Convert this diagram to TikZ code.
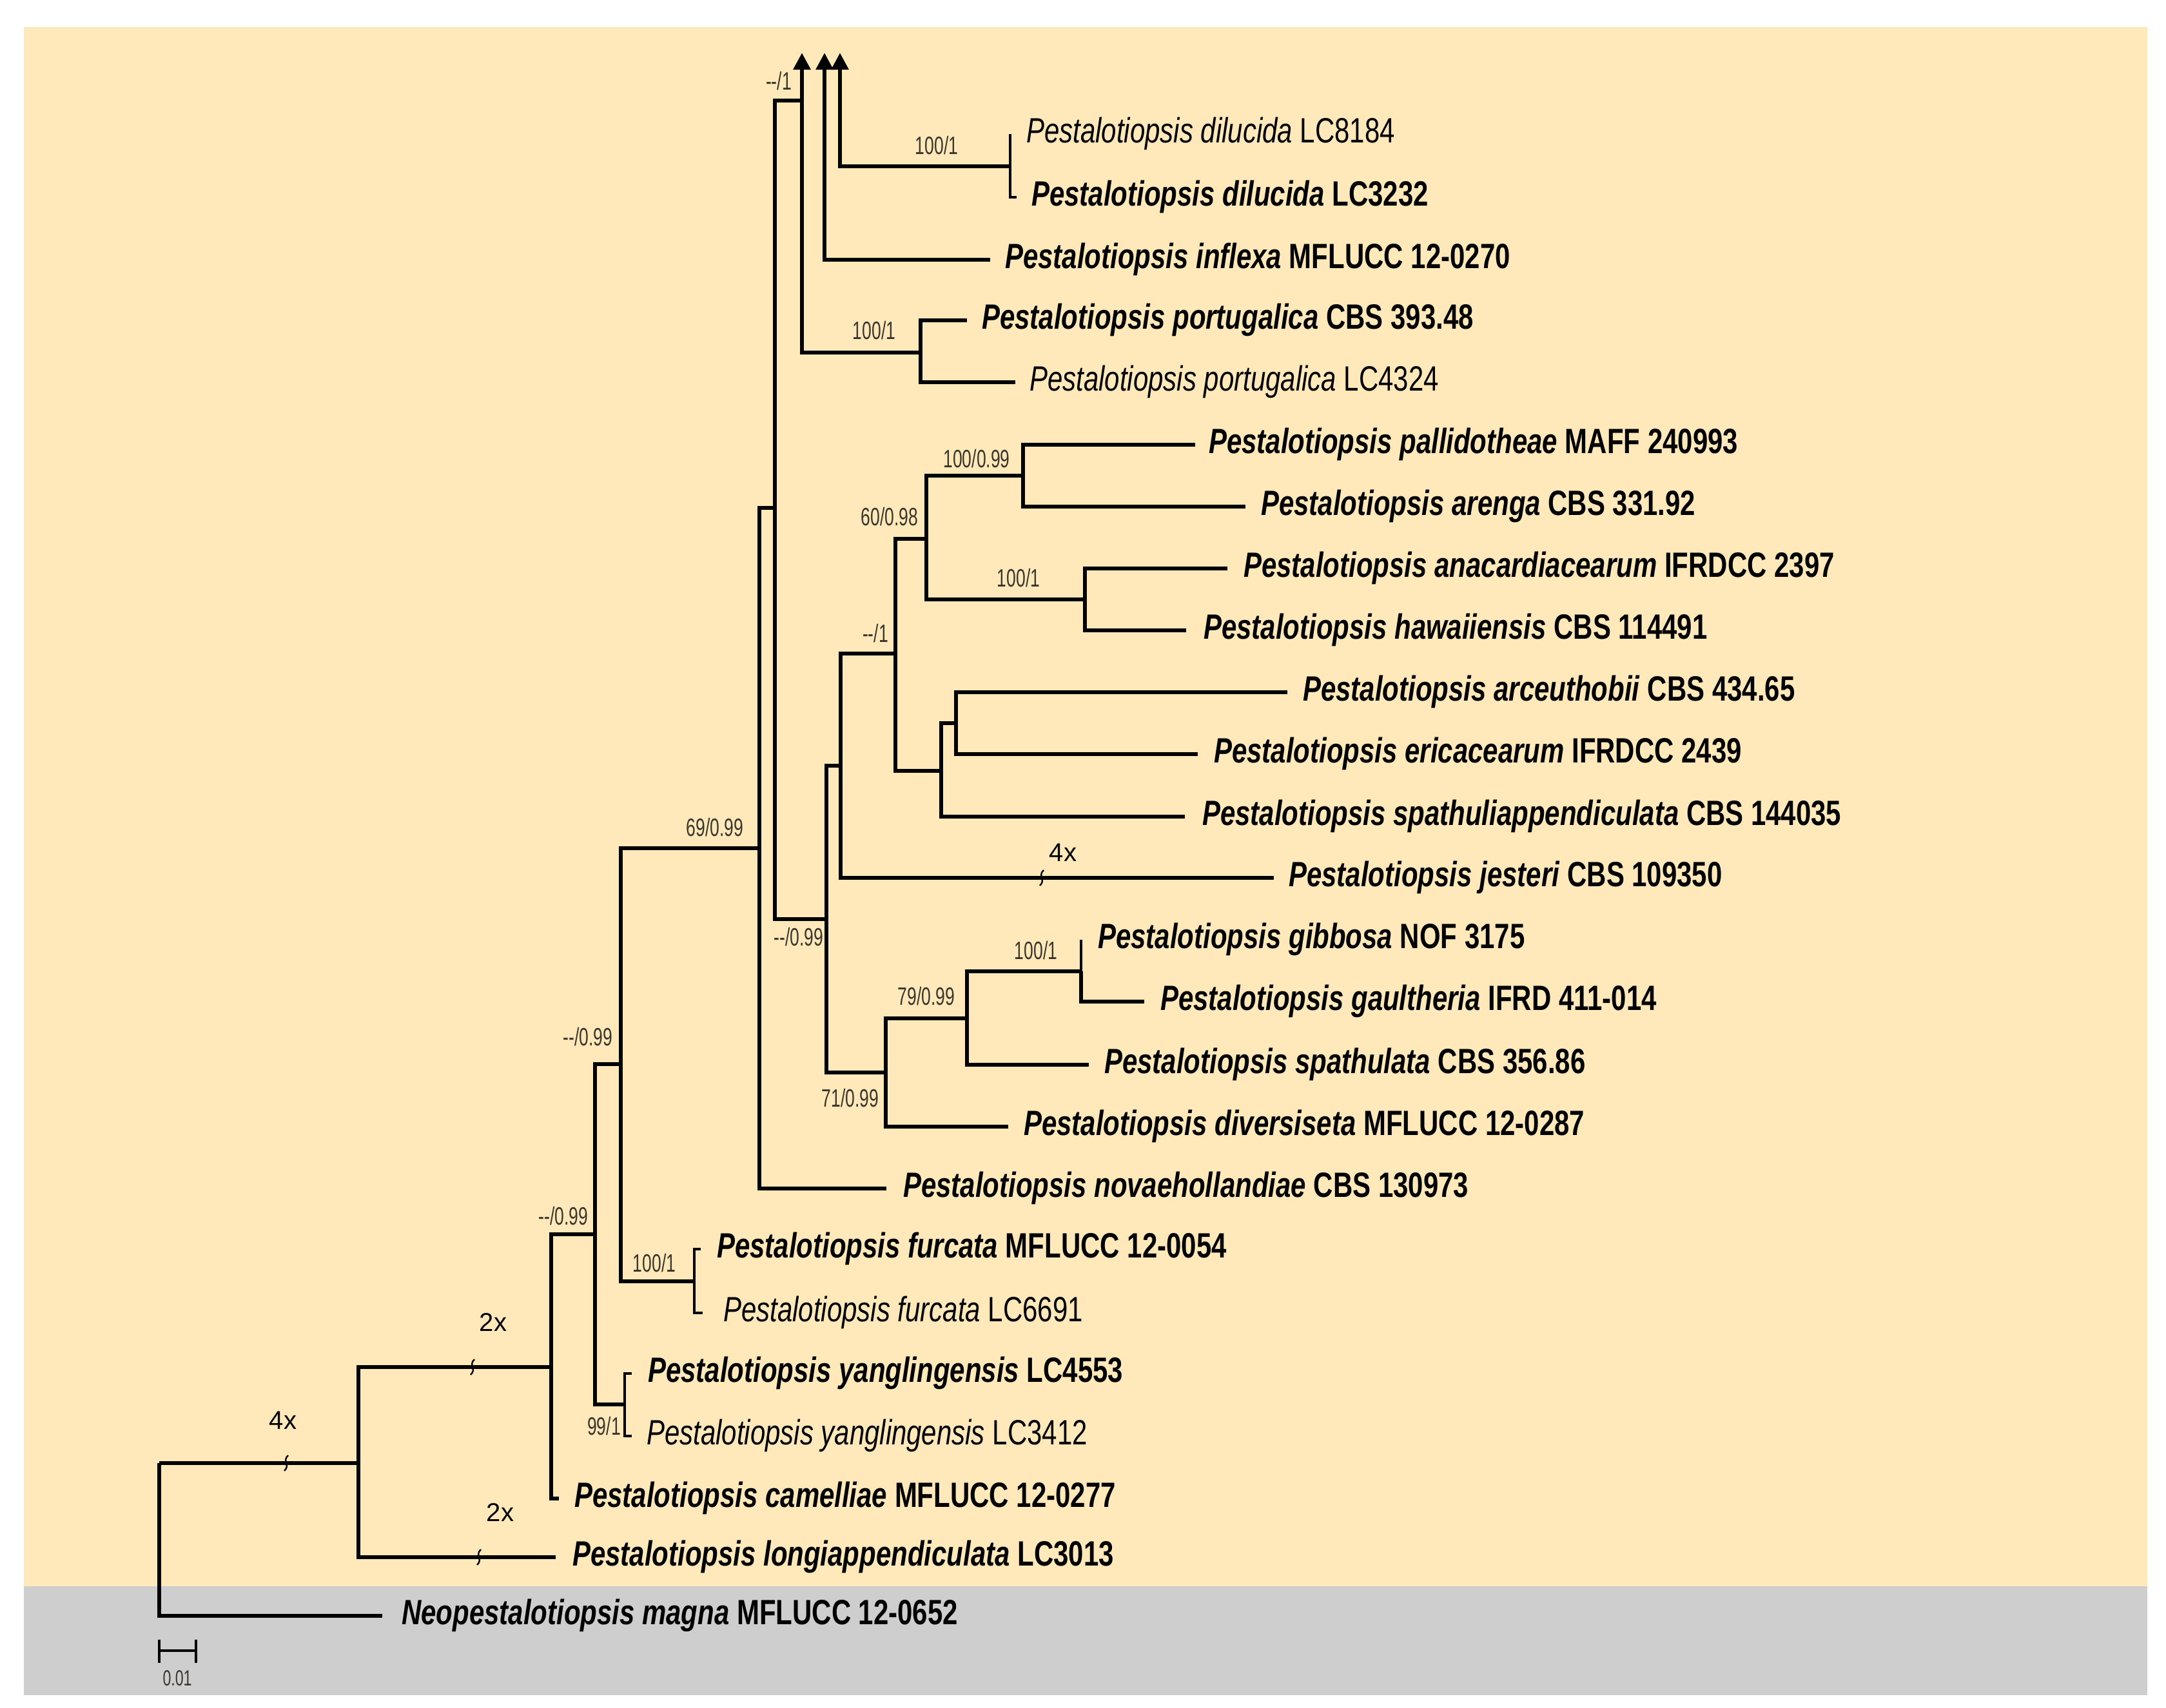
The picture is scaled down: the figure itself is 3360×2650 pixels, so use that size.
\documentclass[tikz,border=0pt]{standalone}
\usepackage{fontspec}
\setmainfont{Liberation Sans}
\newfontfamily\labfont{Liberation Sans}[FakeStretch=0.77]
\newfontfamily\supfont{Liberation Sans}[FakeStretch=0.68]
\usetikzlibrary{arrows.meta}
\definecolor{beige}{HTML}{FFE8BA}
\definecolor{greybg}{HTML}{CECECE}
\definecolor{suptext}{RGB}{58,54,44}
\newcommand\pesta[1]{\textit{Pestalotiopsis #1}}
\newcommand\leaf[5]{\coordinate (#1) at (#2,#4); \node[lab] (#1l) at (#3,#4+13) {#5};}
\newcommand\brkmark[2]{\draw[brk] (#1+3,#2-12) .. controls (#1-7,#2-3) and (#1+7,#2+3) .. (#1-3,#2+12);}
\begin{document}
\begin{tikzpicture}[x=1pt,y=-1pt,
  br/.style={line width=5.8pt},
  cherry/.style={line width=4.6pt},
  lab/.style={font=\labfont\fontsize{54.5}{60}\selectfont, inner sep=0pt, anchor=base west},
  sup/.style={font=\supfont\fontsize{39}{43}\selectfont, inner sep=0pt, text=suptext},
  mul/.style={font=\fontsize{40}{44}\selectfont, inner sep=0pt},
  brk/.style={line width=2.4pt},
  ar/.style={br, -{Triangle[width=26pt,length=26pt]}},
]
\useasboundingbox (0,0) rectangle (3360,2650);
\fill[white] (0,0) rectangle (3360,2650);
\fill[beige] (37,42) rectangle (3331,2461);
\fill[greybg] (37,2461) rectangle (3331,2630);

% internal nodes
\coordinate (root) at (247,2270);
\coordinate (A) at (556,2270);
\coordinate (B) at (855,2121);
\coordinate (C) at (923,1915);
\coordinate (Y) at (969,2179);
\coordinate (D) at (963,1651);
\coordinate (Fu) at (1077,1988);
\coordinate (E) at (1178,1316);
\coordinate (F) at (1202,788);
\coordinate (G) at (1244,156);
\coordinate (P) at (1428,547);
\coordinate (Di) at (1567,258);
\coordinate (H) at (1282,1426);
\coordinate (I) at (1304,1188);
\coordinate (K) at (1389,1014);
\coordinate (L) at (1437,836);
\coordinate (N) at (1587,738);
\coordinate (O) at (1683,930);
\coordinate (M) at (1460,1196);
\coordinate (Q) at (1483,1122);
\coordinate (J) at (1374,1664);
\coordinate (R) at (1500,1580);
\coordinate (S) at (1677,1507);
\coordinate (top1) at (1244,82);
\coordinate (top2) at (1279,82);
\coordinate (top3) at (1303,82);

% leaves
\leaf{t1}{1567}{1592}{208}{\pesta{dilucida} LC8184}
\leaf{t2}{1577}{1600}{306}{\bfseries\pesta{dilucida} LC3232}
\leaf{t3}{1536}{1559}{403}{\bfseries\pesta{inflexa} MFLUCC 12-0270}
\leaf{t4}{1500}{1523}{497}{\bfseries\pesta{portugalica} CBS 393.48}
\leaf{t5}{1575}{1597}{593}{\pesta{portugalica} LC4324}
\leaf{t6}{1854}{1875}{690}{\bfseries\pesta{pallidotheae} MAFF 240993}
\leaf{t7}{1932}{1956}{786}{\bfseries\pesta{arenga} CBS 331.92}
\leaf{t8}{1904}{1929}{882}{\bfseries\pesta{anacardiacearum} IFRDCC 2397}
\leaf{t9}{1840}{1867}{978}{\bfseries\pesta{hawaiiensis} CBS 114491}
\leaf{t10}{1997}{2021}{1074}{\bfseries\pesta{arceuthobii} CBS 434.65}
\leaf{t11}{1858}{1883}{1170}{\bfseries\pesta{ericacearum} IFRDCC 2439}
\leaf{t12}{1838}{1865}{1267}{\bfseries\pesta{spathuliappendiculata} CBS 144035}
\leaf{t13}{1976}{1999}{1362}{\bfseries\pesta{jesteri} CBS 109350}
\leaf{t14}{1677}{1703}{1458}{\bfseries\pesta{gibbosa} NOF 3175}
\leaf{t15}{1775}{1800}{1554}{\bfseries\pesta{gaultheria} IFRD 411-014}
\leaf{t16}{1689}{1713}{1652}{\bfseries\pesta{spathulata} CBS 356.86}
\leaf{t17}{1564}{1588}{1748}{\bfseries\pesta{diversiseta} MFLUCC 12-0287}
\leaf{t18}{1375}{1401}{1844}{\bfseries\pesta{novaehollandiae} CBS 130973}
\leaf{t19}{1087}{1112}{1938}{\bfseries\pesta{furcata} MFLUCC 12-0054}
\leaf{t20}{1090}{1122}{2037}{\pesta{furcata} LC6691}
\leaf{t21}{980}{1005}{2131}{\bfseries\pesta{yanglingensis} LC4553}
\leaf{t22}{980}{1003}{2228}{\pesta{yanglingensis} LC3412}
\leaf{t23}{867}{891}{2325}{\bfseries\pesta{camelliae} MFLUCC 12-0277}
\leaf{t24}{862}{888}{2416}{\bfseries\pesta{longiappendiculata} LC3013}
\leaf{t25}{593}{623}{2507}{\bfseries\textit{Neopestalotiopsis magna} MFLUCC 12-0652}

% branches
\draw[br] (root) |- (A);
\draw[br] (root) |- (t25);
\draw[br] (A) |- (B);
\draw[br] (A) |- (t24);
\draw[br] (B) |- (C);
\draw[br] (B) |- (t23);
\draw[br] (C) |- (D);
\draw[br] (C) |- (Y);
\draw[cherry] (Y) |- (t21);
\draw[cherry] (Y) |- (t22);
\draw[br] (D) |- (E);
\draw[br] (D) |- (Fu);
\draw[cherry] (Fu) |- (t19);
\draw[cherry] (Fu) |- (t20);
\draw[br] (E) |- (F);
\draw[br] (E) |- (t18);
\draw[br] (F) |- (G);
\draw[br] (F) |- (H);
\draw[ar] (G) -- (top1);
\draw[br] (G) |- (P);
\draw[br] (P) |- (t4);
\draw[br] (P) |- (t5);
\draw[ar] (t3) -| (top2);
\draw[ar] (Di) -| (top3);
\draw[cherry] (Di) |- (t1);
\draw[cherry] (Di) |- (t2);
\draw[br] (H) |- (I);
\draw[br] (H) |- (J);
\draw[br] (I) |- (K);
\draw[br] (I) |- (t13);
\draw[br] (K) |- (L);
\draw[br] (K) |- (M);
\draw[br] (L) |- (N);
\draw[br] (L) |- (O);
\draw[br] (N) |- (t6);
\draw[br] (N) |- (t7);
\draw[br] (O) |- (t8);
\draw[br] (O) |- (t9);
\draw[br] (M) |- (Q);
\draw[br] (M) |- (t12);
\draw[br] (Q) |- (t10);
\draw[br] (Q) |- (t11);
\draw[br] (J) |- (R);
\draw[br] (J) |- (t17);
\draw[br] (R) |- (S);
\draw[br] (R) |- (t16);
\draw[cherry] (S) |- (t14);
\draw[br] (S) |- (t15);

% branch breaks
\brkmark{444}{2270}
\brkmark{733}{2121}
\brkmark{743}{2416}
\brkmark{1616}{1362}
\node[mul] (m1) at (439,2204) {4x};
\node[mul] (m2) at (765,2052) {2x};
\node[mul] (m3) at (776,2347) {2x};
\node[mul] (m4) at (1649,1323) {4x};

% support values
\node[sup] (s1) at (1208,126) {--/1};
\node[sup] (s2) at (1453,226) {100/1};
\node[sup] (s3) at (1356,513) {100/1};
\node[sup] (s4) at (1515,712) {100/0.99};
\node[sup] (s5) at (1380,802) {60/0.98};
\node[sup] (s6) at (1580,897) {100/1};
\node[sup] (s7) at (1358,983) {--/1};
\node[sup] (s8) at (1109,1284) {69/0.99};
\node[sup] (s9) at (1239,1454) {--/0.99};
\node[sup] (s10) at (1607,1475) {100/1};
\node[sup] (s11) at (1437,1546) {79/0.99};
\node[sup] (s12) at (1319,1704) {71/0.99};
\node[sup] (s13) at (912,1609) {--/0.99};
\node[sup] (s14) at (1015,1960) {100/1};
\node[sup] (s15) at (874,1887) {--/0.99};
\node[sup] (s16) at (937,2213) {99/1};

% scale bar
\coordinate (sb1) at (247,2561);
\coordinate (sb2) at (304,2561);
\draw[line width=4pt] (sb1) -- (sb2);
\draw[line width=4pt] (247,2544) -- (247,2580);
\draw[line width=4pt] (304,2544) -- (304,2580);
\node[sup, font=\supfont\fontsize{34}{38}\selectfont] (sbl) at (275,2604) {0.01};
\end{tikzpicture}
\end{document}
